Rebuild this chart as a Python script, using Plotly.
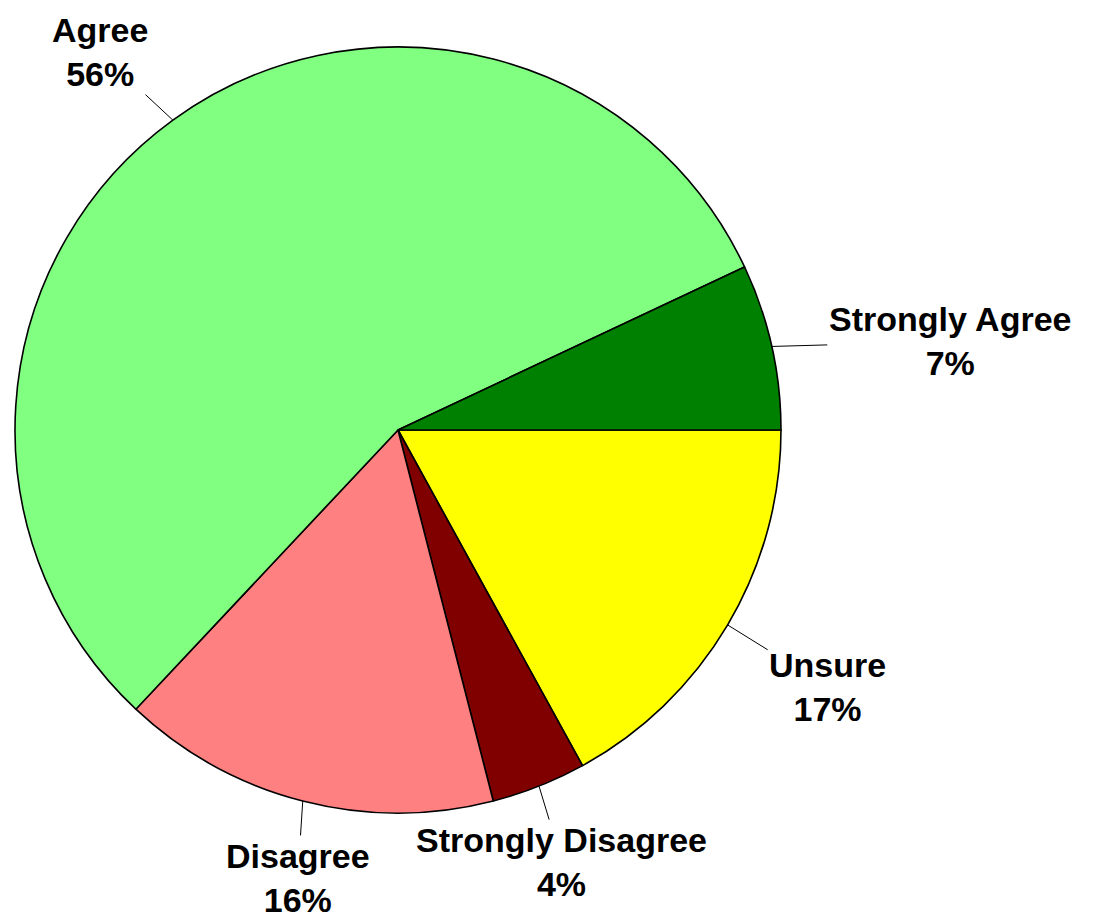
import math
import plotly.graph_objects as go

labels = ["Unsure", "Strongly Disagree", "Disagree", "Agree", "Strongly Agree"]
values = [17, 4, 16, 56, 7]
colors = ["#FFFF00", "#800000", "#FF8080", "#80FF80", "#008000"]

# page body has an 8px margin; work in plot-local pixels
OFF = 8
W, H = 1099 - OFF, 919 - OFF
cx, cy, R = 398 - OFF, 430 - OFF, 383  # pixel geometry of the pie (layout)
# label text offsets from the slice edge (pixels, layout only)
offsets = {
    "Unsure": (100, 62),
    "Strongly Disagree": (23, 76),
    "Disagree": (-5, 77),
    "Agree": (-73, -68),
    "Strongly Agree": (178, -5),
}

fig = go.Figure(go.Pie(
    labels=labels, values=values, sort=False, direction="clockwise",
    rotation=90, textinfo="none", hoverinfo="label+percent",
    marker=dict(colors=colors, line=dict(color="black", width=1.6)),
    domain=dict(x=[(cx - R) / W, (cx + R) / W],
                y=[(H - cy - R) / H, (H - cy + R) / H]),
    showlegend=False,
))

total = sum(values)
start = 0.0
annotations = []
for lab, v in zip(labels, values):
    frac = v / total
    mid = start - frac * 360 / 2
    start -= frac * 360
    a = math.radians(mid)
    ex = cx + R * math.cos(a)
    ey = cy - R * math.sin(a)
    ax, ay = offsets[lab]
    pct = round(100 * frac)
    annotations.append(dict(
        x=ex / W, y=(H - ey) / H, xref="paper", yref="paper",
        ax=ax, ay=ay, showarrow=True, arrowhead=0, arrowwidth=1,
        arrowcolor="black",
        text=f"<b>{lab}<br>{pct}%</b>",
        font=dict(family="Liberation Sans, Arial, sans-serif", size=34, color="black"),
        align="center",
    ))

fig.update_layout(
    width=W, height=H, margin=dict(l=0, r=0, t=0, b=0),
    paper_bgcolor="white", plot_bgcolor="white",
    annotations=annotations,
)
fig.write_html("out.html")
